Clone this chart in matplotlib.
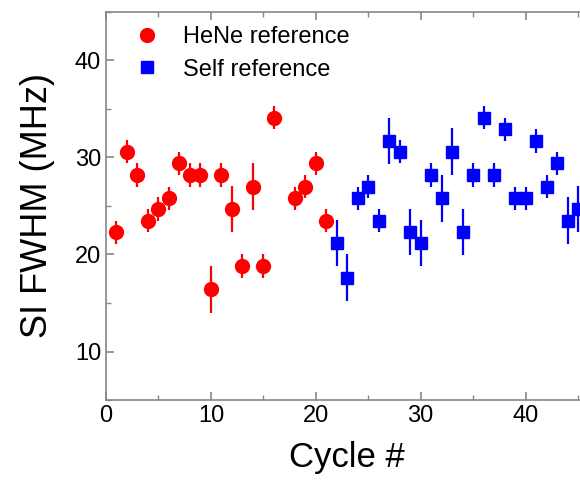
import matplotlib.pyplot as plt
from matplotlib.lines import Line2D
from matplotlib.ticker import MultipleLocator

plt.rcParams['font.family'] = ['Liberation Sans', 'DejaVu Sans']

# HeNe reference
hene_x = [1, 2, 3, 4, 5, 6, 7, 8, 9, 10, 11, 12, 13, 14, 15, 16, 18, 19, 20, 21]
hene_y = [22.3, 30.6, 28.2, 23.5, 24.7, 25.8, 29.4, 28.2, 28.2, 16.4, 28.2,
          24.7, 18.8, 27.0, 18.8, 34.1, 25.8, 27.0, 29.4, 23.5]
hene_err = [1.2, 1.2, 1.2, 1.2, 1.2, 1.2, 1.2, 1.2, 1.2, 2.4, 1.2,
            2.4, 1.2, 2.4, 1.2, 1.2, 1.2, 1.2, 1.2, 1.2]

# Self reference
self_x = list(range(22, 46))
self_y = [21.2, 17.6, 25.8, 27.0, 23.5, 31.7, 30.6, 22.3, 21.2, 28.2, 25.8, 30.6,
          22.3, 28.2, 34.1, 28.2, 32.9, 25.8, 25.8, 31.7, 27.0, 29.4, 23.5, 24.7]
self_err = [2.4, 2.4, 1.2, 1.2, 1.2, 2.4, 1.2, 2.4, 2.4, 1.2, 2.4, 2.4,
            2.4, 1.2, 1.2, 1.2, 1.2, 1.2, 1.2, 1.2, 1.2, 1.2, 2.4, 2.4]

fig = plt.figure(figsize=(5.8, 4.8), dpi=100)
ax = fig.add_axes([106/580, 80/480, 482.5/580, 388/480])

ax.errorbar(hene_x, hene_y, yerr=hene_err, fmt='o', color='#ff0000', ms=10,
            elinewidth=1.6, capsize=0)
ax.errorbar(self_x, self_y, yerr=self_err, fmt='s', color='#0000ff', ms=8,
            elinewidth=1.6, capsize=0)

ax.set_xlim(0, 46)
ax.set_ylim(5, 45)
ax.xaxis.set_major_locator(MultipleLocator(10))
ax.xaxis.set_minor_locator(MultipleLocator(5))
ax.yaxis.set_major_locator(MultipleLocator(10))
ax.yaxis.set_minor_locator(MultipleLocator(5))
ax.tick_params(which='both', direction='in', top=True, right=True,
               color='#888888', labelsize=17)
ax.tick_params(which='major', length=6, width=1.2)
ax.tick_params(which='minor', length=3.5, width=1.0)
for s in ax.spines.values():
    s.set_color('#888888')
    s.set_linewidth(1.2)

ax.set_xlabel('Cycle #', fontsize=25, labelpad=10)
ax.set_ylabel('SI FWHM (MHz)', fontsize=26, labelpad=14)

handles = [Line2D([], [], ls='none', marker='o', color='#ff0000', ms=10),
           Line2D([], [], ls='none', marker='s', color='#0000ff', ms=8)]
ax.legend(handles, ['HeNe reference', 'Self reference'], loc='upper left',
          bbox_to_anchor=(0.06, 0.964), frameon=False, fontsize=17,
          handlelength=1.0, handletextpad=1.03, labelspacing=0.45,
          borderpad=0, borderaxespad=0)

plt.savefig('out.png', dpi=100)
